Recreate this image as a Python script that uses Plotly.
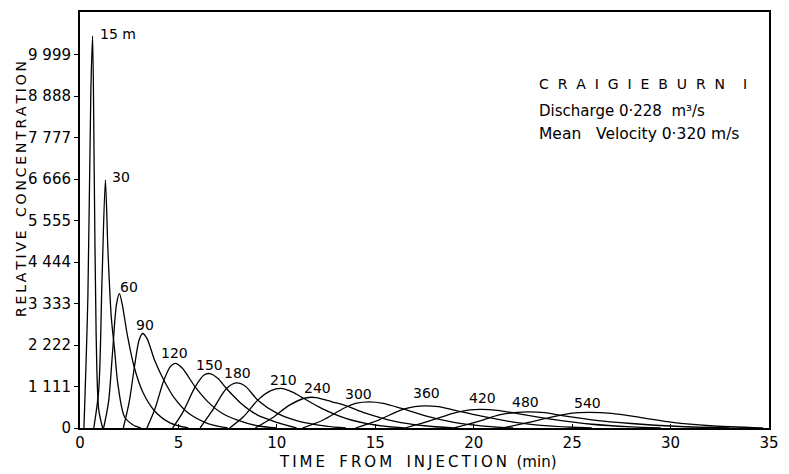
import plotly.graph_objects as go

# Distances (m) from injection for each concentration curve
curve_labels = ["15 m", "30", "60", "90", "120", "150", "180", "210", "240", "300", "360", "420", "480", "540"]

# Time (min) and relative concentration, per curve
t_15 = [0.2, 0.4, 0.55, 0.64, 0.72, 0.82, 0.95, 1.15]
c_15 = [0, 3500, 9000, 10500, 7000, 2500, 500, 0]

t_30 = [0.7, 0.95, 1.12, 1.29, 1.42, 1.59, 1.76, 1.92, 2.26, 2.7, 3.1]
c_30 = [0, 1000, 4000, 6640, 4740, 2966, 2078, 1190, 300, 80, 0]

t_60 = [1.2, 1.45, 1.65, 1.85, 2.0, 2.15, 2.4, 2.76, 3.2, 3.8, 4.6, 5.5]
c_60 = [0, 700, 2000, 3300, 3600, 3300, 2500, 1620, 950, 450, 130, 0]

t_90 = [2.2, 2.5, 2.76, 3.0, 3.18, 3.4, 3.8, 4.26, 4.8, 5.5, 6.5, 7.5]
c_90 = [0, 700, 1620, 2350, 2530, 2400, 1800, 1280, 800, 400, 120, 0]

t_120 = [3.4, 3.8, 4.26, 4.6, 4.85, 5.2, 5.85, 6.5, 7.2, 8.0, 9.0, 10.0]
c_120 = [0, 500, 1280, 1650, 1730, 1600, 1100, 700, 400, 210, 60, 0]

t_150 = [4.7, 5.2, 5.85, 6.3, 6.6, 7.0, 7.44, 8.2, 9.0, 10.0, 11.0]
c_150 = [0, 400, 1100, 1420, 1457, 1330, 1057, 650, 350, 150, 0]

t_180 = [6.1, 6.7, 7.44, 7.94, 8.4, 9.03, 10.0, 11.0, 12.5, 13.5]
c_180 = [0, 450, 1057, 1207, 1120, 746, 400, 200, 50, 0]

t_210 = [7.6, 8.3, 9.03, 9.7, 10.28, 10.8, 11.37, 12.3, 13.5, 15.0, 16.5]
c_210 = [0, 300, 746, 1000, 1057, 960, 790, 520, 260, 80, 0]

t_240 = [8.9, 9.8, 10.6, 11.5, 12.0, 12.8, 13.5, 14.5, 16.0, 17.5, 19.0]
c_240 = [0, 280, 600, 810, 815, 700, 600, 400, 180, 60, 0]

t_300 = [11.3, 12.3, 13.4, 14.0, 14.7, 15.4, 16.3, 17.5, 19.0, 20.5, 22.0]
c_300 = [0, 200, 530, 660, 700, 660, 530, 330, 150, 50, 0]

t_360 = [14.0, 15.2, 16.3, 17.0, 17.55, 18.2, 19.0, 20.3, 22.0, 24.0, 26.0]
c_360 = [0, 220, 480, 570, 594, 570, 480, 330, 160, 50, 0]

t_420 = [16.5, 17.8, 19.0, 19.8, 20.4, 21.2, 22.3, 24.0, 26.0, 28.0, 29.5]
c_420 = [0, 200, 400, 485, 498, 470, 380, 230, 100, 30, 0]

t_480 = [19.0, 20.2, 21.3, 22.2, 22.8, 23.6, 24.5, 26.0, 28.0, 30.5, 33.0]
c_480 = [0, 170, 350, 420, 434, 410, 330, 220, 120, 40, 0]

t_540 = [21.5, 22.8, 24.0, 25.0, 25.9, 27.0, 28.5, 30.1, 32.0, 34.7]
c_540 = [0, 150, 300, 400, 420, 390, 280, 150, 60, 0]

curve_times = [t_15, t_30, t_60, t_90, t_120, t_150, t_180, t_210, t_240, t_300, t_360, t_420, t_480, t_540]
curve_concs = [c_15, c_30, c_60, c_90, c_120, c_150, c_180, c_210, c_240, c_300, c_360, c_420, c_480, c_540]

# Where each curve's label sits (data coordinates, left edge / vertical centre)
label_t = [0.9, 1.5, 1.92, 2.76, 4.0, 5.77, 7.19, 9.53, 11.28, 13.37, 16.8, 19.64, 21.82, 24.99]
label_c = [10550, 6713, 3783, 2770, 1998, 1678, 1465, 1279, 1079, 906, 946, 812, 700, 679]

# Axis ticks
x_ticks = [0, 5, 10, 15, 20, 25, 30, 35]
y_ticks = [0, 1111, 2222, 3333, 4444, 5555, 6666, 7777, 8888, 9999]
y_tick_text = ["0", "1 111", "2 222", "3 333", "4 444", "5 555", "6 666", "7 777", "8 888", "9 999"]

FONT = "DejaVu Sans"
THIN = "\u2009"


def spaced(text):
    """Widely lettered caption: thin spaces between letters, wider gaps between words."""
    return "   ".join(THIN.join(word) for word in text.split(" "))


fig = go.Figure()
for name, ts, cs in zip(curve_labels, curve_times, curve_concs):
    fig.add_trace(go.Scatter(
        x=ts, y=cs, mode="lines", name=name,
        line=dict(color="black", width=1.3, shape="spline", smoothing=0.8),
        showlegend=False, hoverinfo="skip",
    ))

for name, lt, lc in zip(curve_labels, label_t, label_c):
    fig.add_annotation(x=lt, y=lc, xref="x", yref="y", text=name, showarrow=False,
                       xanchor="left", yanchor="middle",
                       font=dict(family=FONT, size=14, color="black"))

# Station information block
fig.add_annotation(x=0.664, y=0.828, xref="paper", yref="paper",
                   text="C  R  A  I  G  I  E  B  U  R  N    I", showarrow=False,
                   xanchor="left", yanchor="middle",
                   font=dict(family=FONT, size=14, color="black"))
fig.add_annotation(x=0.664, y=0.761, xref="paper", yref="paper",
                   text="Discharge 0·228  m³/s", showarrow=False,
                   xanchor="left", yanchor="middle",
                   font=dict(family=FONT, size=15, color="black"))
fig.add_annotation(x=0.664, y=0.706, xref="paper", yref="paper",
                   text="Mean   Velocity 0·320 m/s", showarrow=False,
                   xanchor="left", yanchor="middle",
                   font=dict(family=FONT, size=15.5, color="black"))

# Axis titles
fig.add_annotation(x=-0.086, y=0.574, xref="paper", yref="paper",
                   text=spaced("RELATIVE CONCENTRATION"), showarrow=False,
                   textangle=-90, xanchor="center", yanchor="middle",
                   font=dict(family=FONT, size=14, color="black"))
fig.add_annotation(x=0.49, y=-0.081, xref="paper", yref="paper",
                   text=spaced("TIME FROM INJECTION") + "  (min)", showarrow=False,
                   xanchor="center", yanchor="middle",
                   font=dict(family=FONT, size=15, color="black"))

fig.update_xaxes(range=[0, 35], tickvals=x_ticks, ticktext=[str(v) for v in x_ticks],
                 showline=True, linecolor="black", linewidth=2, mirror=True,
                 ticks="inside", ticklen=4, tickcolor="black", showgrid=False, zeroline=False,
                 tickfont=dict(family=FONT, size=15, color="black"))
fig.update_yaxes(range=[0, 11140], tickvals=y_ticks, ticktext=y_tick_text,
                 showline=True, linecolor="black", linewidth=2, mirror=True,
                 ticks="outside", ticklen=4, tickcolor="black", showgrid=False, zeroline=False,
                 tickfont=dict(family=FONT, size=15, color="black"))

fig.update_layout(width=789, height=474, margin=dict(l=80, r=11, t=10, b=46),
                  plot_bgcolor="white", paper_bgcolor="white")

fig.write_html("out.html")
